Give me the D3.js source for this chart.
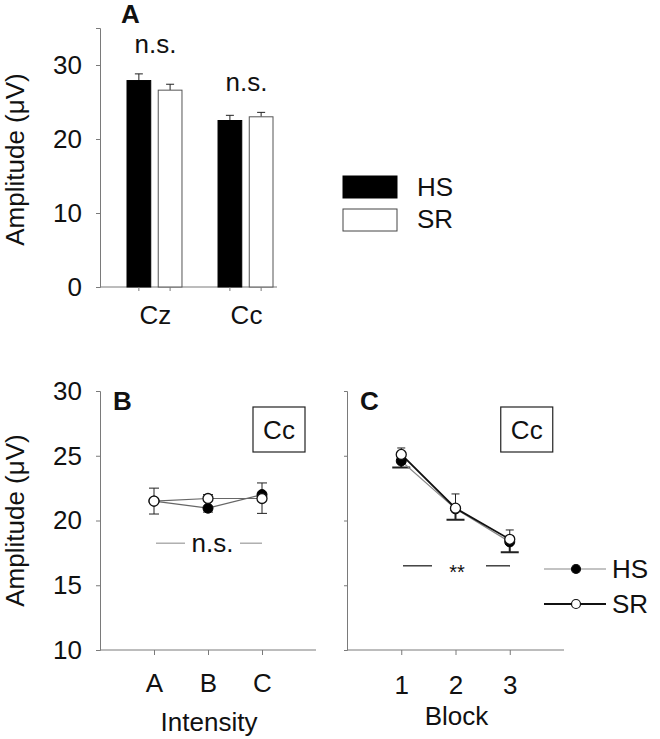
<!DOCTYPE html>
<html lang="en">
<head>
  <meta charset="UTF-8">
  <title>Amplitude HS vs SR</title>
  <script src="https://d3js.org/d3.v7.min.js"></script>
  <style>
    body { margin: 0; background: #fff; }
    svg text { font-family: "Liberation Sans", Arial, sans-serif; fill: #111; }
  </style>
</head>
<body>
  <svg id="fig" width="660" height="739"></svg>

  <script>
    // panel A: bar chart
    const sites = ["Cz", "Cc"];
    const hsA = [27.9, 22.5];
    const hsAErr = [0.9, 0.7];
    const srA = [26.6, 23.0];
    const srAErr = [0.8, 0.6];
    const ticksA = [0, 10, 20, 30];

    // panel B: intensity
    const intensities = ["A", "B", "C"];
    const hsB = [21.5, 20.95, 22.0];
    const hsBErr = [1.0, 0.3, 1.45];
    const srB = [21.5, 21.7, 21.7];
    const srBErr = [1.0, 0.3, 1.2];

    // panel C: block
    const blocks = ["1", "2", "3"];
    const hsC = [24.6, 20.9, 18.35];
    const hsCErr = [0.5, 0.85, 0.8];
    const srC = [25.1, 20.95, 18.55];
    const srCErr = [0.5, 1.1, 0.72];
    const ticksBC = [10, 15, 20, 25, 30];

    const series = ["HS", "SR"];
    const axisColor = "#7a7a7a";
    const fs = 26;

    const svg = d3.select("#fig");

    function styleAxis(g) {
      g.select(".domain").attr("stroke", axisColor);
      g.selectAll(".tick line").attr("stroke", axisColor);
      g.selectAll(".tick text")
        .attr("font-size", fs)
        .attr("font-family", "Liberation Sans, Arial, sans-serif")
        .attr("fill", "#111");
    }

    // ---------- Panel A ----------
    const yA = d3.scaleLinear().domain([0, 35]).range([287, 28]);
    const xA = d3.scaleBand().domain(sites).range([127, 273]).paddingInner(0.396);
    const xA1 = d3.scaleBand().domain(series).range([0, xA.bandwidth()]).paddingInner(0.24);

    const gA = svg.append("g");
    gA.append("g")
      .attr("transform", "translate(100,0)")
      .call(d3.axisLeft(yA).tickValues(ticksA).tickSize(4).tickPadding(14))
      .call(styleAxis);

    gA.append("line")
      .attr("x1", 100).attr("x2", 277)
      .attr("y1", yA(0)).attr("y2", yA(0))
      .attr("stroke", axisColor);

    const barData = [];
    sites.forEach((s, i) => {
      barData.push({ site: s, key: "HS", v: hsA[i], e: hsAErr[i] });
      barData.push({ site: s, key: "SR", v: srA[i], e: srAErr[i] });
    });

    // error bars (drawn first, bar covers the lower half)
    gA.selectAll(".errA")
      .data(barData)
      .enter().append("path")
      .attr("fill", "none")
      .attr("stroke", "#222")
      .attr("stroke-width", 1)
      .attr("d", d => {
        const cx = xA(d.site) + xA1(d.key) + xA1.bandwidth() / 2;
        const top = yA(d.v + d.e);
        return `M${cx},${yA(d.v)}V${top}M${cx - 4},${top}H${cx + 4}`;
      });

    gA.selectAll(".bar")
      .data(barData)
      .enter().append("rect")
      .attr("x", d => xA(d.site) + xA1(d.key))
      .attr("width", xA1.bandwidth())
      .attr("y", d => yA(d.v))
      .attr("height", d => yA(0) - yA(d.v))
      .attr("fill", d => d.key === "HS" ? "#000" : "#fff")
      .attr("stroke", d => d.key === "HS" ? "#000" : "#555")
      .attr("stroke-width", 1);

    // ticks under each bar
    gA.selectAll(".tickA")
      .data(barData)
      .enter().append("line")
      .attr("x1", d => xA(d.site) + xA1(d.key) + xA1.bandwidth() / 2)
      .attr("x2", d => xA(d.site) + xA1(d.key) + xA1.bandwidth() / 2)
      .attr("y1", yA(0)).attr("y2", yA(0) + 4)
      .attr("stroke", axisColor);

    gA.selectAll(".siteLabel")
      .data(sites)
      .enter().append("text")
      .attr("x", d => xA(d) + xA.bandwidth() / 2 + 1)
      .attr("y", 324)
      .attr("text-anchor", "middle")
      .attr("font-size", fs)
      .text(d => d);

    gA.selectAll(".nsA")
      .data(sites)
      .enter().append("text")
      .attr("x", d => xA(d) + xA.bandwidth() / 2 + 1)
      .attr("y", (d, i) => yA(Math.max(hsA[i] + hsAErr[i], srA[i] + srAErr[i])) - 21)
      .attr("text-anchor", "middle")
      .attr("font-size", fs)
      .text("n.s.");

    gA.append("text")
      .attr("x", 121).attr("y", 23)
      .attr("font-size", fs).attr("font-weight", "bold")
      .text("A");

    gA.append("text")
      .attr("transform", `translate(24,${(yA(0) + yA(35)) / 2 + 2}) rotate(-90)`)
      .attr("text-anchor", "middle")
      .attr("font-size", fs)
      .text("Amplitude (\u03bcV)");

    // legend A
    const legA = svg.append("g");
    series.forEach((s, i) => {
      legA.append("rect")
        .attr("x", 343).attr("y", 176 + i * 33)
        .attr("width", 54).attr("height", 22)
        .attr("fill", s === "HS" ? "#000" : "#fff")
        .attr("stroke", s === "HS" ? "#000" : "#444");
      legA.append("text")
        .attr("x", 417).attr("y", 196 + i * 32)
        .attr("font-size", fs)
        .text(s);
    });

    // ---------- Panels B and C ----------
    function linePanel(opts) {
      const { x0, x1, cats, hs, hsErr, sr, srErr, showYLabels, letter, xTitle, titleY, tickPad,
              hsLine, srLine, capHS, capSR } = opts;
      const y = d3.scaleLinear().domain([10, 30]).range([650, 391]);
      const x = d3.scalePoint().domain(cats).range([x0, x1]).padding(1);
      const g = svg.append("g");

      const yAxis = d3.axisLeft(y).tickValues(ticksBC).tickSize(showYLabels ? 4 : 3).tickPadding(14);
      if (!showYLabels) yAxis.tickFormat("");
      g.append("g").attr("transform", `translate(${x0},0)`).call(yAxis).call(styleAxis);

      g.append("g")
        .attr("transform", `translate(0,${y(10)})`)
        .call(d3.axisBottom(x).tickSize(5).tickPadding(tickPad))
        .call(styleAxis)
        .call(a => a.select(".domain").attr("d", `M${x0},0H${x1}`));

      const hsPts = cats.map((c, i) => ({ c, v: hs[i], e: hsErr[i] }));
      const srPts = cats.map((c, i) => ({ c, v: sr[i], e: srErr[i] }));

      // HS error bars go down, SR error bars go up
      g.selectAll(".errHS").data(hsPts).enter().append("path")
        .attr("fill", "none").attr("stroke", "#222").attr("stroke-width", capHS.w)
        .attr("d", d => {
          const b = y(d.v - d.e);
          return `M${x(d.c)},${y(d.v)}V${b}M${x(d.c) - capHS.half},${b}H${x(d.c) + capHS.half}`;
        });
      g.selectAll(".errSR").data(srPts).enter().append("path")
        .attr("fill", "none").attr("stroke", "#222").attr("stroke-width", capSR.w)
        .attr("d", d => {
          const t = y(d.v + d.e);
          return `M${x(d.c)},${y(d.v)}V${t}M${x(d.c) - capSR.half},${t}H${x(d.c) + capSR.half}`;
        });

      const line = d3.line().x(d => x(d.c)).y(d => y(d.v));
      g.append("path").datum(hsPts).attr("d", line)
        .attr("fill", "none").attr("stroke", hsLine.c).attr("stroke-width", hsLine.w);
      g.append("path").datum(srPts).attr("d", line)
        .attr("fill", "none").attr("stroke", srLine.c).attr("stroke-width", srLine.w);

      g.selectAll(".ptHS").data(hsPts).enter().append("circle")
        .attr("cx", d => x(d.c)).attr("cy", d => y(d.v)).attr("r", 5)
        .attr("fill", "#000").attr("stroke", "#000");
      g.selectAll(".ptSR").data(srPts).enter().append("circle")
        .attr("cx", d => x(d.c)).attr("cy", d => y(d.v)).attr("r", 5)
        .attr("fill", "#fff").attr("stroke", "#111").attr("stroke-width", 1.3);

      g.append("text")
        .attr("x", x0 + 13).attr("y", 410)
        .attr("font-size", fs).attr("font-weight", "bold")
        .text(letter);

      g.append("text")
        .attr("x", (x0 + x1) / 2 + 1).attr("y", titleY)
        .attr("text-anchor", "middle").attr("font-size", fs)
        .text(xTitle);

      // "Cc" box
      const bx = x(cats[2]) - 9;
      g.append("rect")
        .attr("x", bx).attr("y", 407).attr("width", 52).attr("height", 45)
        .attr("fill", "#fff").attr("stroke", "#222").attr("stroke-width", 1.2);
      g.append("text")
        .attr("x", bx + 26).attr("y", 439).attr("text-anchor", "middle")
        .attr("font-size", fs).text("Cc");

      return { g, x, y };
    }

    const pB = linePanel({
      x0: 100, x1: 316, cats: intensities,
      hs: hsB, hsErr: hsBErr, sr: srB, srErr: srBErr,
      showYLabels: true, letter: "B", xTitle: "Intensity", titleY: 731, tickPad: 19,
      hsLine: { c: "#666", w: 1.2 }, srLine: { c: "#666", w: 1.2 },
      capHS: { w: 1, half: 5 }, capSR: { w: 1, half: 5 }
    });

    pB.g.append("text")
      .attr("transform", `translate(24,${(pB.y(10) + pB.y(30)) / 2}) rotate(-90)`)
      .attr("text-anchor", "middle")
      .attr("font-size", fs)
      .text("Amplitude (\u03bcV)");

    // n.s. in B
    const nsY = pB.y(18.25);
    pB.g.append("line").attr("x1", 156).attr("x2", 185).attr("y1", nsY).attr("y2", nsY)
      .attr("stroke", "#888").attr("stroke-width", 1);
    pB.g.append("line").attr("x1", 240).attr("x2", 262).attr("y1", nsY).attr("y2", nsY)
      .attr("stroke", "#888").attr("stroke-width", 1);
    pB.g.append("text").attr("x", 212.5).attr("y", nsY + 9)
      .attr("text-anchor", "middle").attr("font-size", fs).text("n.s.");

    const pC = linePanel({
      x0: 347, x1: 564, cats: blocks,
      hs: hsC, hsErr: hsCErr, sr: srC, srErr: srCErr,
      showYLabels: false, letter: "C", xTitle: "Block", titleY: 725, tickPad: 21,
      hsLine: { c: "#888", w: 1.2 }, srLine: { c: "#111", w: 1.8 },
      capHS: { w: 2, half: 9 }, capSR: { w: 1, half: 4 }
    });

    // ** in C
    const sY = pC.y(16.5);
    pC.g.append("line").attr("x1", 403).attr("x2", 432).attr("y1", sY).attr("y2", sY)
      .attr("stroke", "#111").attr("stroke-width", 1.2);
    pC.g.append("line").attr("x1", 486).attr("x2", 510).attr("y1", sY).attr("y2", sY)
      .attr("stroke", "#111").attr("stroke-width", 1.2);
    pC.g.append("text").attr("x", 457).attr("y", sY + 13)
      .attr("text-anchor", "middle").attr("font-size", 20).text("**");

    // legend C
    const legC = svg.append("g");
    series.forEach((s, i) => {
      const ly = 569 + i * 35;
      legC.append("line").attr("x1", 544).attr("x2", 606).attr("y1", ly).attr("y2", ly)
        .attr("stroke", s === "HS" ? "#888" : "#111").attr("stroke-width", s === "HS" ? 1.2 : 1.8);
      legC.append("circle").attr("cx", 576).attr("cy", ly).attr("r", 4.5)
        .attr("fill", s === "HS" ? "#000" : "#fff").attr("stroke", "#111").attr("stroke-width", 1.2);
      legC.append("text").attr("x", 612).attr("y", ly + 9)
        .attr("font-size", fs).text(s);
    });
  </script>
</body>
</html>
